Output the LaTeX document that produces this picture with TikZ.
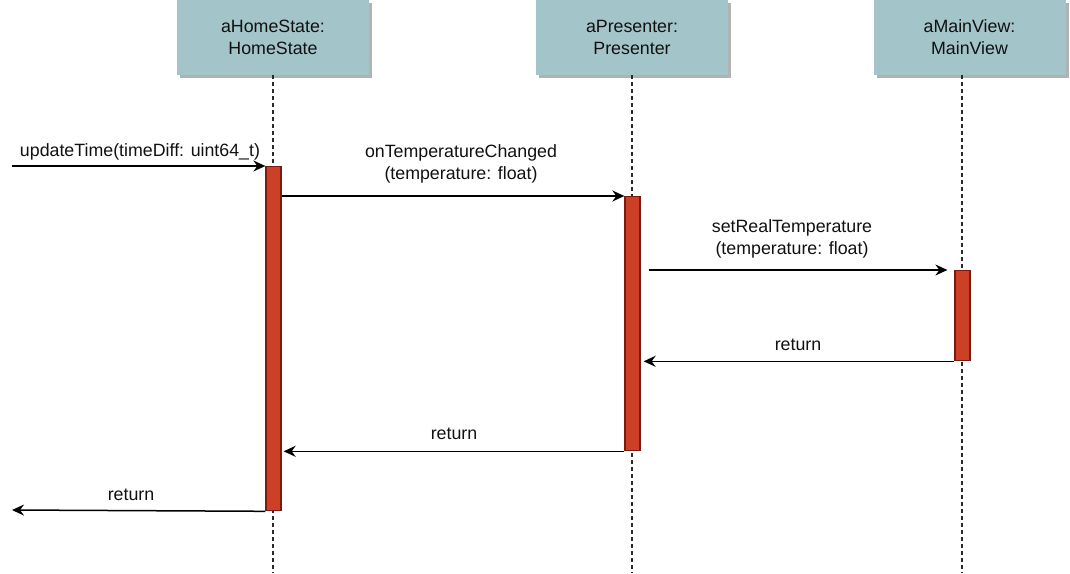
\documentclass[tikz,border=0pt]{standalone}
\usepackage{fontspec}
\setmainfont{Liberation Sans}
\usetikzlibrary{arrows.meta,calc,shadows}
\definecolor{hdrfill}{HTML}{A3C4C9}
\definecolor{barfill}{HTML}{CC4125}
\definecolor{barline}{HTML}{7A1A10}
\definecolor{txt}{HTML}{111111}
\definecolor{life}{HTML}{2A2A2A}
\begin{document}
\begin{tikzpicture}[x=1pt,y=-1pt,
  font=\fontsize{17.8}{22}\selectfont,
  hdrbox/.style={fill=hdrfill, minimum width=192pt, minimum height=75pt, inner sep=0pt, align=center, text=txt,
    drop shadow={shadow xshift=3pt, shadow yshift=-3pt, fill=black!30, opacity=1}},
  lifeline/.style={draw=life, line width=1.6pt, dash pattern=on 3.5pt off 3.5pt},
  actbar/.style={fill=barfill, draw=barline, line width=1.3pt, minimum width=15pt, inner sep=0pt, anchor=north},
  msg/.style={draw=black, line width=1.5pt, -{Stealth[length=12pt,width=11pt,inset=4pt]}},
  lbl/.style={text=txt, align=center, inner sep=0pt}
]
\useasboundingbox (0,0) rectangle (1070,573);
% headers
\node[hdrbox] (h1) at (273,37.5) {aHomeState:\\HomeState};
\node[hdrbox] (h2) at (632,37.5) {aPresenter:\\Presenter};
\node[hdrbox] (h3) at (969.5,37.5) {aMainView:\\MainView};
% lifeline ends
\coordinate (e1) at (273,573);
\coordinate (e2) at (632,573);
\coordinate (e3) at (962,573);
\draw[lifeline] (h1.south) -- (e1);
\draw[lifeline] (h2.south) -- (e2);
\draw[lifeline] ($(h3.south)+(-7.5,0)$) -- (e3);
% activation bars
\node[actbar, minimum height=344pt] (b1) at (273.5,166) {};
\node[actbar, minimum height=254pt] (b2) at (632.5,196) {};
\node[actbar, minimum height=90pt] (b3) at (962.5,270) {};
% free ends
\coordinate (in0) at (12,166);
\coordinate (out0) at (12,510);
% messages
\draw[msg] (in0) -- (b1.north west);
\draw[msg] (b1.east |- b2.north) -- (b2.north west);
\draw[msg] ($(b2.east |- b3.north)+(8,0)$) -- ($(b3.north west)+(-7,0)$);
\draw[msg] (b3.south west) -- ($(b2.east |- b3.south)+(3,0)$);
\draw[msg] (b2.south west) -- ($(b1.east |- b2.south)+(2,0)$);
\draw[msg] (b1.south west) -- (out0);
% labels
\node[lbl] (l1) at (140,152) {updateTime(timeDiff: uint64\_t)};
\node[lbl] (l2) at (461,164) {onTemperatureChanged\\(temperature: float)};
\node[lbl] (l3) at (792,239) {setRealTemperature\\(temperature: float)};
\node[lbl] (l4) at (798,345) {return};
\node[lbl] (l5) at (454,434) {return};
\node[lbl] (l6) at (131,495) {return};
\end{tikzpicture}
\end{document}
